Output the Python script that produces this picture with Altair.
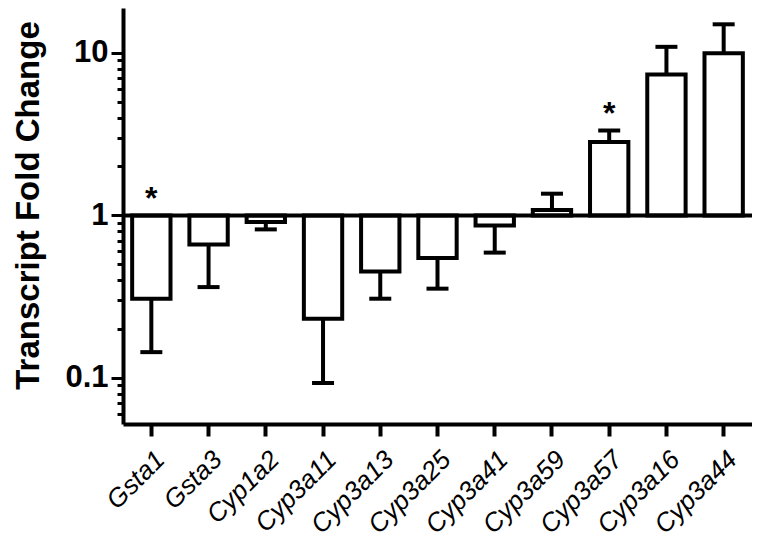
import altair as alt
import pandas as pd

genes = ["Gsta1", "Gsta3", "Cyp1a2", "Cyp3a11", "Cyp3a13", "Cyp3a25",
         "Cyp3a41", "Cyp3a59", "Cyp3a57", "Cyp3a16", "Cyp3a44"]
fold = [0.307, 0.663, 0.91, 0.231, 0.452, 0.546, 0.868, 1.08, 2.83, 7.37, 9.97]
err_end = [0.144, 0.362, 0.82, 0.093, 0.307, 0.354, 0.59, 1.36, 3.33, 10.9, 15.0]

star_genes = ["Gsta1", "Cyp3a57"]
star_pos = [1.37, 4.55]

major_ticks = [0.1, 1, 10]
minor_ticks = [0.06, 0.07, 0.08, 0.09,
               0.2, 0.3, 0.4, 0.5, 0.6, 0.7, 0.8, 0.9,
               2, 3, 4, 5, 6, 7, 8, 9]

df = pd.DataFrame({"gene": genes, "fold": fold, "err": err_end, "base": [1] * len(genes)})
stars = pd.DataFrame({"gene": star_genes, "pos": star_pos, "label": ["*"] * len(star_genes)})

FONT = "Liberation Sans"

xscale = alt.Scale(domain=genes, paddingInner=0.33, paddingOuter=0.16)
yscale = alt.Scale(type="log", domain=[0.052, 18.9])

xenc = alt.X("gene:N", scale=xscale, sort=genes, title=None,
             axis=alt.Axis(labelAngle=-45, labelAlign="right", labelBaseline="top",
                           labelFont=FONT, labelFontStyle="italic",
                           labelFontSize=26, labelColor="black", labelPadding=10,
                           domainColor="black", domainWidth=4,
                           tickColor="black", tickWidth=4, tickSize=12))

major_test = "datum.value == 0.1 || datum.value == 1 || datum.value == 10"
yaxis = alt.Axis(values=major_ticks + minor_ticks,
                 labelExpr="datum.value == 0.1 ? '0.1' : datum.value == 1 ? '1' : datum.value == 10 ? '10' : ''",
                 labelFont=FONT, labelFontWeight="bold", labelFontSize=31, labelColor="black",
                 labelPadding=3,
                 tickSize={"condition": {"test": major_test, "value": 12}, "value": 6},
                 tickWidth=3, tickColor="black",
                 domainColor="black", domainWidth=4, grid=False,
                 title="Transcript Fold Change", titleFont=FONT, titleFontWeight="bold",
                 titleFontSize=33, titleColor="black",
                 titleX=-78, titleY=197, titleAngle=-90, titleBaseline="bottom", titleAlign="center")

bars = alt.Chart(df).mark_bar(fill="white", stroke="black", strokeWidth=4).encode(
    x=xenc,
    y=alt.Y("fold:Q", scale=yscale, axis=yaxis),
    y2="base:Q",
)

err_rule = alt.Chart(df).mark_rule(color="black", strokeWidth=4).encode(
    x=alt.X("gene:N", scale=xscale, sort=genes),
    y=alt.Y("fold:Q", scale=yscale),
    y2="err:Q",
)

caps = alt.Chart(df).mark_tick(color="black", thickness=4, size=22, opacity=1).encode(
    x=alt.X("gene:N", scale=xscale, sort=genes),
    y=alt.Y("err:Q", scale=yscale),
)

baseline = alt.Chart(df).mark_rule(color="black", strokeWidth=4).encode(
    y=alt.Y("mean(base):Q", scale=yscale),
)

star_text = alt.Chart(stars).mark_text(font=FONT, fontSize=32, fontWeight="bold",
                                        baseline="middle", dy=6, color="black").encode(
    x=alt.X("gene:N", scale=xscale, sort=genes),
    y=alt.Y("pos:Q", scale=yscale),
    text="label:N",
)

chart = alt.layer(bars, err_rule, caps, baseline, star_text).properties(
    width=629, height=416,
    autosize=alt.AutoSizeParams(type="none"),
    padding={"left": 115, "top": 0, "right": 0, "bottom": 125},
).configure_view(stroke=None)

chart.save("out.html", embed_options={"renderer": "svg", "actions": False})
